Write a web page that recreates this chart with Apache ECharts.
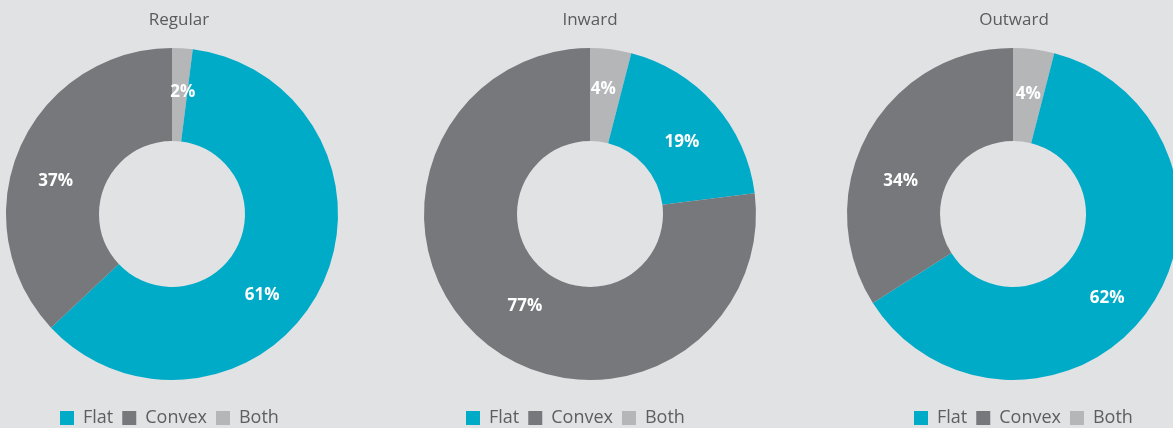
<!DOCTYPE html>
<html>
<head>
<meta charset="utf-8">
<script src="https://cdn.jsdelivr.net/npm/echarts@6/dist/echarts.min.js"></script>
<style>
  html, body { margin: 0; padding: 0; background: #e1e2e4; }
  #chart { width: 1173px; height: 428px; }
</style>
</head>
<body>
<div id="chart"></div>
<script>
// 三个环形图：Regular / Inward / Outward
var categories = ['Flat', 'Convex', 'Both']
var groups = ['Regular', 'Inward', 'Outward']
var regularValues = [61, 37, 2]
var inwardValues = [19, 77, 4]
var outwardValues = [62, 34, 4]
var colors = ['#00abc8', '#77787b', '#b5b6b8']

var values = [regularValues, inwardValues, outwardValues]
var centersX = [172, 590, 1013]
var titlesX = [179, 590, 1014]
var legendsX = [60, 466, 914]
// 标签微调 [dx, dy]，顺序：Both, Flat, Convex
var labelShift = [
  [[3, 0], [-19, 26], [-4, 16]],
  [[-2, -3], [0, 9], [16, 0]],
  [[0, 2], [-5, 12], [-5, 26]]
]

var fontFamily = '"Open Sans", Lato, sans-serif'

var chart = echarts.init(document.getElementById('chart'))

chart.setOption({
  backgroundColor: '#e1e2e4',
  color: colors,
  title: groups.map(function (name, i) {
    return {
      text: name,
      left: titlesX[i],
      top: 12,
      padding: 0,
      textAlign: 'center',
      textStyle: {
        color: '#5a5b5d',
        fontSize: 17,
        fontWeight: 'normal',
        fontFamily: fontFamily
      }
    }
  }),
  legend: groups.map(function (name, i) {
    return {
      data: categories,
      left: legendsX[i],
      top: 409,
      padding: 0,
      icon: 'rect',
      itemWidth: 14,
      itemHeight: 14,
      itemGap: 9,
      textStyle: {
        color: '#5d5e60',
        fontSize: 18,
        fontFamily: fontFamily,
        padding: [0, 0, 0, 4]
      }
    }
  }),
  series: groups.map(function (name, i) {
    // 顺时针：Both 在12点方向开始，然后 Flat，再 Convex
    var data = [
      { name: categories[2], value: values[i][2], itemStyle: { color: colors[2] } },
      { name: categories[0], value: values[i][0], itemStyle: { color: colors[0] } },
      { name: categories[1], value: values[i][1], itemStyle: { color: colors[1] } }
    ]
    return {
      name: name,
      type: 'pie',
      center: [centersX[i], 214],
      radius: [73, 166],
      startAngle: 90,
      clockwise: true,
      avoidLabelOverlap: false,
      silent: true,
      label: {
        show: true,
        position: 'inside',
        formatter: '{c}%',
        color: '#ffffff',
        fontSize: 17,
        fontWeight: 'bold',
        fontFamily: fontFamily
      },
      labelLayout: function (params) {
        var s = labelShift[params.seriesIndex][params.dataIndex]
        return { dx: s[0], dy: s[1] }
      },
      labelLine: { show: false },
      data: data
    }
  })
})
</script>
</body>
</html>
